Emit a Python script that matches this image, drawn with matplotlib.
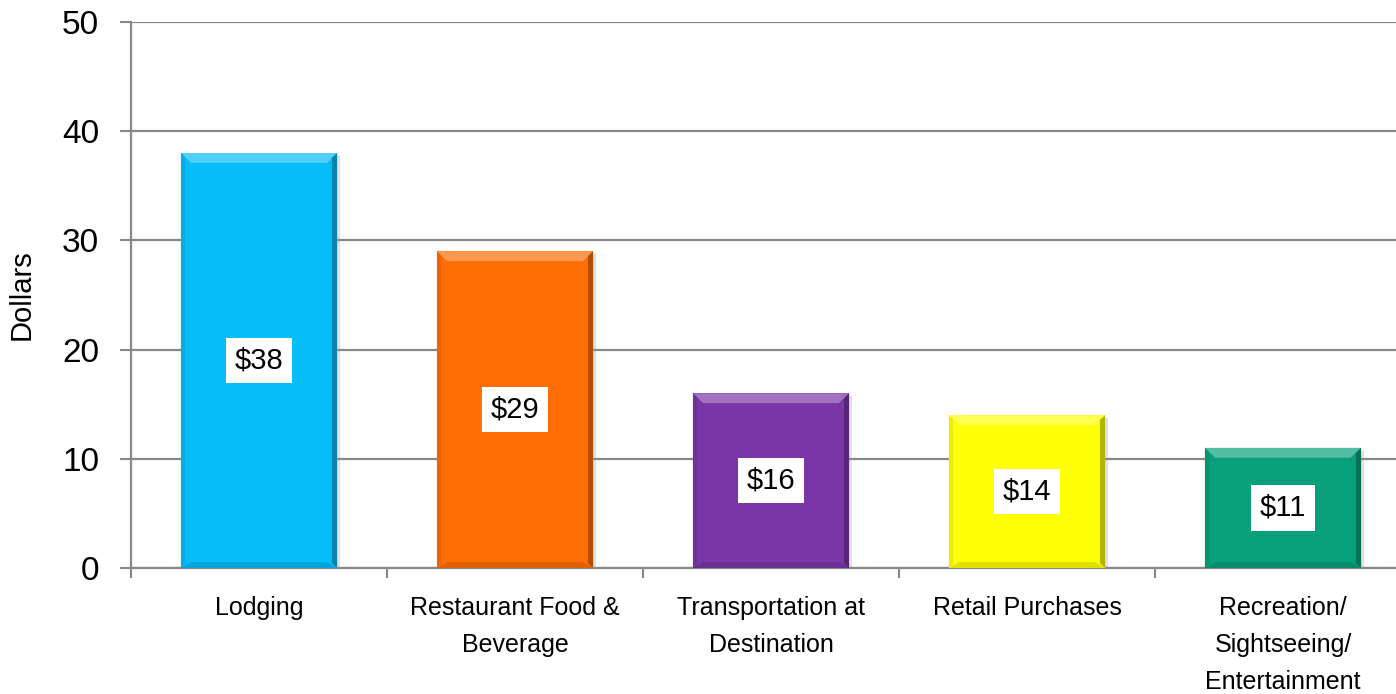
import matplotlib
matplotlib.use("Agg")
import matplotlib.pyplot as plt
from matplotlib.patches import Polygon
import matplotlib.patheffects as pe
import matplotlib.colors as mc
from matplotlib.ticker import FixedLocator, NullFormatter

categories = ["Lodging", "Restaurant Food &\nBeverage", "Transportation at\nDestination",
              "Retail Purchases", "Recreation/\nSightseeing/\nEntertainment"]
values = [38, 29, 16, 14, 11]
colors = ["#06BCF9", "#FF6D05", "#7A36A6", "#FFFF05", "#08A07A"]
yticks = [0, 10, 20, 30, 40, 50]

plt.rcParams['font.family'] = ['Liberation Sans', 'DejaVu Sans']

fig = plt.figure(figsize=(13.96, 6.94), dpi=100)
ax = fig.add_axes([131/1396, 126/694, 1280/1396, (568-22)/694])

def shade(c, f):
    r, g, b = mc.to_rgb(c)
    if f > 0:
        return (r + (1-r)*f, g + (1-g)*f, b + (1-b)*f)
    return (r*(1+f), g*(1+f), b*(1+f))

width = 0.61
xs = list(range(len(values)))
bars = ax.bar(xs, values, width=width, color=colors, zorder=3, edgecolor="none")
for b in bars:
    b.set_path_effects([pe.SimplePatchShadow(offset=(2, -2), shadow_rgbFace="#999999", alpha=0.3), pe.Normal()])

# bevel effect
bx = 0.04
by = 0.9
for x, v, c in zip(xs, values, colors):
    l, r = x - width/2, x + width/2
    top = Polygon([(l, v), (r, v), (r - bx, v - by), (l + bx, v - by)], closed=True,
                  facecolor=shade(c, 0.3), edgecolor="none", zorder=4)
    right = Polygon([(r, v), (r, 0), (r - bx*0.5, by*0.5), (r - bx*0.5, v - by*0.5)], closed=True,
                    facecolor=shade(c, -0.3), edgecolor="none", zorder=4)
    bottom = Polygon([(l, 0), (r, 0), (r - bx, by*0.6), (l + bx, by*0.6)], closed=True,
                     facecolor=shade(c, -0.12), edgecolor="none", zorder=4)
    left = Polygon([(l, 0), (l, v), (l + bx*0.4, v - by*0.4), (l + bx*0.4, by*0.4)], closed=True,
                   facecolor=shade(c, -0.08), edgecolor="none", zorder=4)
    for p in (top, bottom, left, right):
        ax.add_patch(p)
    ax.text(x, v/2, f"${v}", ha="center", va="center", fontsize=21, zorder=6,
            bbox=dict(boxstyle="square,pad=0.3", facecolor="white", edgecolor="none"))

ax.set_xlim(-0.5, len(values) - 0.5)
ax.set_ylim(0, 50)
ax.set_yticks(yticks)
ax.tick_params(axis="y", labelsize=24, direction="out", length=8, width=1.5, color="#888888", pad=15)
ax.yaxis.grid(True, color="#888888", linewidth=1.6, zorder=0)
ax.set_axisbelow(True)

ax.xaxis.set_major_locator(FixedLocator([i - 0.5 for i in range(len(values) + 1)]))
ax.xaxis.set_major_formatter(NullFormatter())
ax.xaxis.set_minor_locator(FixedLocator(xs))
ax.set_xticklabels(categories, minor=True)
ax.tick_params(axis="x", which="major", direction="out", length=7, width=1.5, color="#888888")
ax.tick_params(axis="x", which="minor", length=0, pad=20)
for t in ax.get_xticklabels(minor=True):
    t.set_fontsize(18)
    t.set_linespacing(1.7)
    t.set_va("top")

for s in ["top", "right"]:
    ax.spines[s].set_visible(False)
for s in ["left", "bottom"]:
    ax.spines[s].set_color("#888888")
    ax.spines[s].set_linewidth(1.6)

ax.set_ylabel("Dollars", fontsize=21)
ax.yaxis.set_label_coords(-95/1280, 0.5)

fig.savefig("out.png", dpi=100)
